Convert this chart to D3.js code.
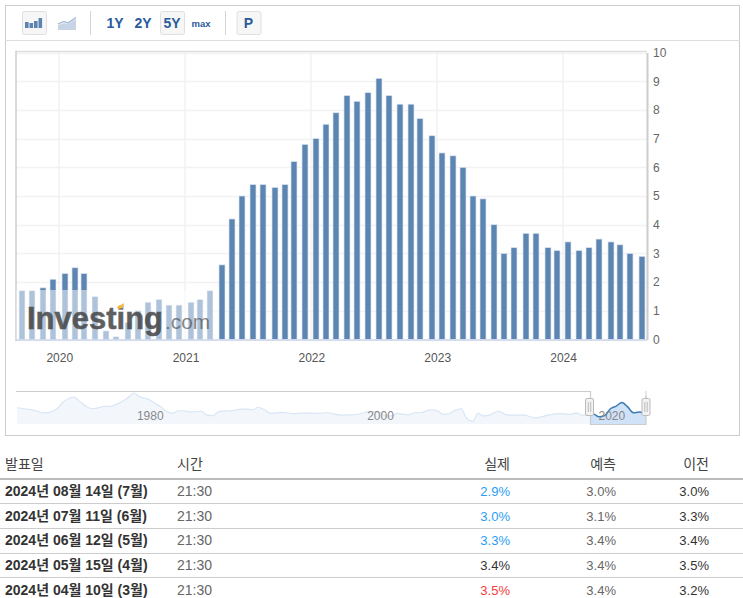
<!DOCTYPE html>
<html><head><meta charset="utf-8">
<script src="https://cdn.jsdelivr.net/npm/d3@7"></script>
<style>
html,body{margin:0;padding:0;background:#fff}
svg{display:block}
text{font-family:"Liberation Sans","Noto Sans CJK KR",sans-serif}
</style></head><body>
<svg id="c" width="743" height="598"></svg>
<script>
const releaseDates=["2019-09-12","2019-10-10","2019-11-13","2019-12-11","2020-01-14","2020-02-13","2020-03-11","2020-04-10","2020-05-12","2020-06-10","2020-07-14","2020-08-12","2020-09-11","2020-10-13","2020-11-12","2020-12-10","2021-01-13","2021-02-10","2021-03-10","2021-04-13","2021-05-12","2021-06-10","2021-07-13","2021-08-11","2021-09-14","2021-10-13","2021-11-10","2021-12-10","2022-01-12","2022-02-10","2022-03-10","2022-04-12","2022-05-11","2022-06-10","2022-07-13","2022-08-10","2022-09-13","2022-10-13","2022-11-10","2022-12-13","2023-01-12","2023-02-14","2023-03-14","2023-04-12","2023-05-10","2023-06-13","2023-07-12","2023-08-10","2023-09-13","2023-10-12","2023-11-14","2023-12-12","2024-01-11","2024-02-13","2024-03-12","2024-04-10","2024-05-15","2024-06-12","2024-07-11","2024-08-14"];
const cpiValues=[1.7,1.7,1.8,2.1,2.3,2.5,2.3,1.5,0.3,0.1,0.6,1.0,1.3,1.4,1.2,1.2,1.3,1.4,1.7,2.6,4.2,5.0,5.4,5.4,5.3,5.4,6.2,6.8,7.0,7.5,7.9,8.5,8.3,8.6,9.1,8.5,8.2,8.2,7.7,7.1,6.5,6.4,6.0,5.0,4.9,4.0,3.0,3.2,3.7,3.7,3.2,3.1,3.4,3.1,3.2,3.5,3.4,3.3,3.0,2.9];
const yTicks=[0,1,2,3,4,5,6,7,8,9,10];
const xTickYears=[2020,2021,2022,2023,2024];
const navYears=[1970,1971,1971.5,1972,1972.5,1973,1973.5,1974,1974.5,1974.9,1975.5,1976,1976.5,1977,1977.5,1978,1978.5,1979,1979.5,1980.2,1980.5,1981,1981.5,1982,1982.5,1983,1983.5,1984,1984.5,1985,1985.5,1986,1986.5,1987,1987.5,1988,1988.5,1989,1989.5,1990,1990.5,1990.9,1991.5,1992,1993,1994,1995,1996,1997,1998,1999,2000,2000.5,2001,2001.5,2002,2002.5,2003,2003.5,2004,2004.5,2005,2005.9,2006.5,2007,2007.5,2008,2008.6,2009,2009.6,2010,2010.5,2011,2011.8,2012.5,2013,2014,2015,2016,2017,2018,2018.6,2019,2019.7];
const navValues=[6.0,5.0,4.4,3.3,2.9,3.6,5.7,9.4,11.5,12.3,9.4,6.8,5.4,5.9,6.8,6.8,7.7,9.3,11.3,14.8,13,11.8,10.8,8.4,6.5,3.7,2.6,4.2,4.2,3.5,3.6,3.9,1.6,1.3,3.7,4.0,4.1,4.7,5.2,5.2,4.7,6.3,4.7,2.6,3.2,2.5,2.8,2.7,3.0,1.6,1.7,2.7,3.7,3.7,3.2,1.1,1.1,2.6,2.1,1.9,3.0,3.0,4.7,4.1,2.1,2.4,4.3,5.4,0.1,-2.1,2.6,1.1,1.6,3.9,1.7,1.6,1.6,-0.1,1.4,2.5,2.1,2.9,1.6,1.7];
const navLabels=[1980,2000,2020];
const tableHeaders=["발표일","시간","실제","예측","이전"];
const tableDates=["2024년 08월 14일 (7월)","2024년 07월 11일 (6월)","2024년 06월 12일 (5월)","2024년 05월 15일 (4월)","2024년 04월 10일 (3월)"];
const tableTimes=["21:30","21:30","21:30","21:30","21:30"];
const tableActual=["2.9%","3.0%","3.3%","3.4%","3.5%"];
const tableForecast=["3.0%","3.1%","3.4%","3.4%","3.4%"];
const tablePrevious=["3.0%","3.3%","3.4%","3.5%","3.2%"];
const actualColors=["#2a9df4","#2a9df4","#2a9df4","#333","#f53b3b"];
const rangeButtons=["1Y","2Y","5Y","max"];

const svg=d3.select("#c");
const parse=d3.utcParse("%Y-%m-%d");
const dates=releaseDates.map(parse);

// frame + toolbar
svg.append("rect").attr("x",5.5).attr("y",5.5).attr("width",734).attr("height",430).attr("fill","#fff").attr("stroke","#ccc");
svg.append("line").attr("x1",5).attr("x2",740).attr("y1",40.5).attr("y2",40.5).attr("stroke","#ddd");
const btnBox=(x,w)=>svg.append("rect").attr("x",x+.5).attr("y",11.5).attr("width",w).attr("height",23).attr("rx",2).attr("fill","#f6f6f6").attr("stroke","#e0e0e0");
btnBox(22,24);btnBox(160,24);btnBox(236.5,24);
[90.5,225.5].forEach(x=>svg.append("line").attr("x1",x).attr("x2",x).attr("y1",11).attr("y2",35).attr("stroke","#d5d5d5"));
const iconBar=[[25,6],[29.5,5],[34,7],[38.5,10]];
iconBar.forEach(d=>svg.append("rect").attr("x",d[0]).attr("y",28-d[1]).attr("width",3.6).attr("height",d[1]).attr("fill","#5b84b1"));
svg.append("path").attr("d","M58 25L64 23L68 24L76 19L76 30L58 30Z").attr("fill","#c6d4e5");
svg.append("path").attr("d","M58 24L64 21.5L68 23L76 17.5").attr("fill","none").attr("stroke","#9db6d3").attr("stroke-width",1.3);
const btnX=[115,143,172,201];
svg.selectAll("text.rb").data(rangeButtons).join("text").attr("class","rb")
 .attr("x",(d,i)=>btnX[i]).attr("y",(d,i)=>i===3?27:28).attr("text-anchor","middle")
 .attr("font-size",(d,i)=>i===3?9.5:14).attr("font-weight","bold").attr("fill","#2a5b9c").text(d=>d);
svg.append("text").attr("x",248.5).attr("y",28).attr("text-anchor","middle").attr("font-size",14).attr("font-weight","bold").attr("fill","#2a5b9c").text("P");

// main chart
const x=d3.scaleUtc().domain([dates[0],dates[dates.length-1]]).range([22,642]);
const y=d3.scaleLinear().domain([0,10]).range([339.5,52.5]);
const xTickDates=xTickYears.map(v=>new Date(Date.UTC(v,0,1)));

svg.append("g").selectAll("line").data(yTicks).join("line")
 .attr("x1",16).attr("x2",647).attr("y1",d=>Math.round(y(d))+.5).attr("y2",d=>Math.round(y(d))+.5).attr("stroke","#f2f2f2").attr("stroke-width",1.5);
svg.append("g").selectAll("line").data(xTickDates).join("line")
 .attr("x1",d=>Math.round(x(d))-1).attr("x2",d=>Math.round(x(d))-1).attr("y1",52).attr("y2",340).attr("stroke","#f2f2f2").attr("stroke-width",1.5);

svg.append("line").attr("x1",16).attr("x2",647).attr("y1",51.5).attr("y2",51.5).attr("stroke","#ddd").attr("stroke-width",1.5);
svg.append("line").attr("x1",16).attr("x2",16).attr("y1",51).attr("y2",341).attr("stroke","#ccc").attr("stroke-width",1.5);

svg.append("g").selectAll("rect").data(cpiValues).join("rect")
 .attr("x",(d,i)=>Math.round(x(dates[i]))-3).attr("width",6)
 .attr("y",d=>y(d)).attr("height",d=>y(0)-y(d))
 .attr("fill","#5d85b2").attr("stroke","#dbe5f1").attr("stroke-width",.7);

const axR=d3.axisRight(y).tickValues(yTicks).tickSize(0).tickPadding(6).tickFormat(d3.format("d"));
const gR=svg.append("g").attr("transform","translate(647,0)").call(axR);
gR.select(".domain").attr("stroke","#ccc").attr("stroke-width",2);
gR.selectAll("text").attr("font-size",12).attr("fill","#666").style("font-family",'"Liberation Sans"');
const axB=d3.axisBottom(x).tickValues(xTickDates).tickSize(0).tickPadding(13).tickFormat(d3.utcFormat("%Y"));
const gB=svg.append("g").attr("transform","translate(-1,340)").call(axB);
gB.select(".domain").attr("d","M17,0H648").attr("stroke","#ccd6eb").attr("stroke-width",1.5);
gB.selectAll("text").attr("font-size",12).attr("fill","#555").style("font-family",'"Liberation Sans"');

// watermark
svg.append("rect").attr("x",16.5).attr("y",290).attr("width",202.5).attr("height",49).attr("fill","#fff").attr("opacity",.5);
svg.append("text").attr("x",27).attr("y",329).attr("font-size",32).attr("font-weight","bold").attr("textLength",136).attr("lengthAdjust","spacingAndGlyphs").attr("fill","#444").attr("stroke","#444").attr("stroke-width",.5).attr("opacity",.85).text("Investing");
svg.append("text").attr("x",165).attr("y",329).attr("font-size",21).attr("textLength",45).attr("lengthAdjust","spacingAndGlyphs").attr("fill","#555").attr("opacity",.7).text(".com");
svg.append("path").attr("d","M117 307L124 303L123 308L118 309Z").attr("fill","#f6b73c");

// navigator
const navX=d3.scaleLinear().domain([1969.9,2024.62]).range([16,646]);
const navY=d3.scaleLinear().domain([-3.7,14.8]).range([424,393]);
const decYear=d=>d.getUTCFullYear()+d3.utcDay.count(d3.utcYear(d),d)/365;
const recent=dates.map((d,i)=>[decYear(d),cpiValues[i]]).filter((d,i)=>i%6===4||i===59);
const hist=navYears.map((v,i)=>[v,navValues[i]]);
const all=hist.concat(recent);
const navLine=d3.line().x(d=>navX(d[0])).y(d=>navY(d[1])).curve(d3.curveMonotoneX);
const navArea=d3.area().x(d=>navX(d[0])).y0(424).y1(d=>navY(d[1])).curve(d3.curveMonotoneX);
const defs=svg.append("defs");
defs.append("clipPath").attr("id","sel").append("rect").attr("x",590).attr("y",385).attr("width",56).attr("height",40);
defs.append("clipPath").attr("id","uns").append("rect").attr("x",16).attr("y",385).attr("width",574).attr("height",40);
svg.append("path").attr("d",navArea(all)).attr("fill","#f3f7fc").attr("clip-path","url(#uns)");
svg.append("path").attr("d",navLine(all)).attr("fill","none").attr("stroke","#d9e6f4").attr("stroke-width",1.2).attr("clip-path","url(#uns)");
svg.append("path").attr("d",navArea(all)).attr("fill","#cfe2f8").attr("clip-path","url(#sel)");
svg.append("path").attr("d",navLine(all)).attr("fill","none").attr("stroke","#3d7ab5").attr("stroke-width",1.5).attr("clip-path","url(#sel)");
svg.append("path").attr("d","M16 391.5H590.5V424.5H646V396").attr("fill","none").attr("stroke","#ccc").attr("stroke-width",1.2);
svg.append("line").attr("x1",646).attr("x2",646).attr("y1",391).attr("y2",398).attr("stroke","#ccc");
const navOffset=[18,18,19];
svg.selectAll("text.nl").data(navLabels).join("text").attr("class","nl")
 .attr("x",(d,i)=>navX(d)+navOffset[i]).attr("y",420).attr("text-anchor","middle").attr("font-size",12).attr("fill","#888").text(d=>d);
[589.5,646].forEach(hx=>{
 const g=svg.append("g");
 g.append("rect").attr("x",hx-4).attr("y",398.5).attr("width",8).attr("height",17).attr("rx",1.5).attr("fill","#f2f2f2").attr("stroke","#bbb");
 [-1.2,1.2].forEach(o=>g.append("line").attr("x1",hx+o).attr("x2",hx+o).attr("y1",402).attr("y2",412).attr("stroke","#bbb"));
});

// table
const th=svg.append("g");
const headX=[5,177,510,616,709], headA=["start","start","end","end","end"];
th.selectAll("text").data(tableHeaders).join("text").attr("x",(d,i)=>headX[i]).attr("y",469).attr("text-anchor",(d,i)=>headA[i])
 .attr("font-size",14).attr("fill","#444").style("font-family",'"Noto Sans CJK KR"').text(d=>d);
svg.append("line").attr("x1",0).attr("x2",743).attr("y1",479).attr("y2",479).attr("stroke","#bbb").attr("stroke-width",2);
const rowY=[496,521,545,570,595], lineY=[503.5,528.5,553.5,577.5];
lineY.forEach(l=>svg.append("line").attr("x1",0).attr("x2",743).attr("y1",l).attr("y2",l).attr("stroke","#ccc"));
const col=(arr,xp,anchor,color,extra,size)=>svg.append("g").selectAll("text").data(arr).join("text")
 .attr("x",xp).attr("y",(d,i)=>rowY[i]).attr("text-anchor",anchor).attr("font-size",size||13)
 .attr("fill",(d,i)=>typeof color==="function"?color(d,i):color).attr("font-weight",extra||"normal").text(d=>d);
col(tableDates,5,"start","#333","bold",14);
col(tableTimes,177,"start","#666","normal",14);
col(tableActual,510,"end",(d,i)=>actualColors[i]);
col(tableForecast,616,"end","#666");
col(tablePrevious,709,"end","#333");
</script></body></html>
